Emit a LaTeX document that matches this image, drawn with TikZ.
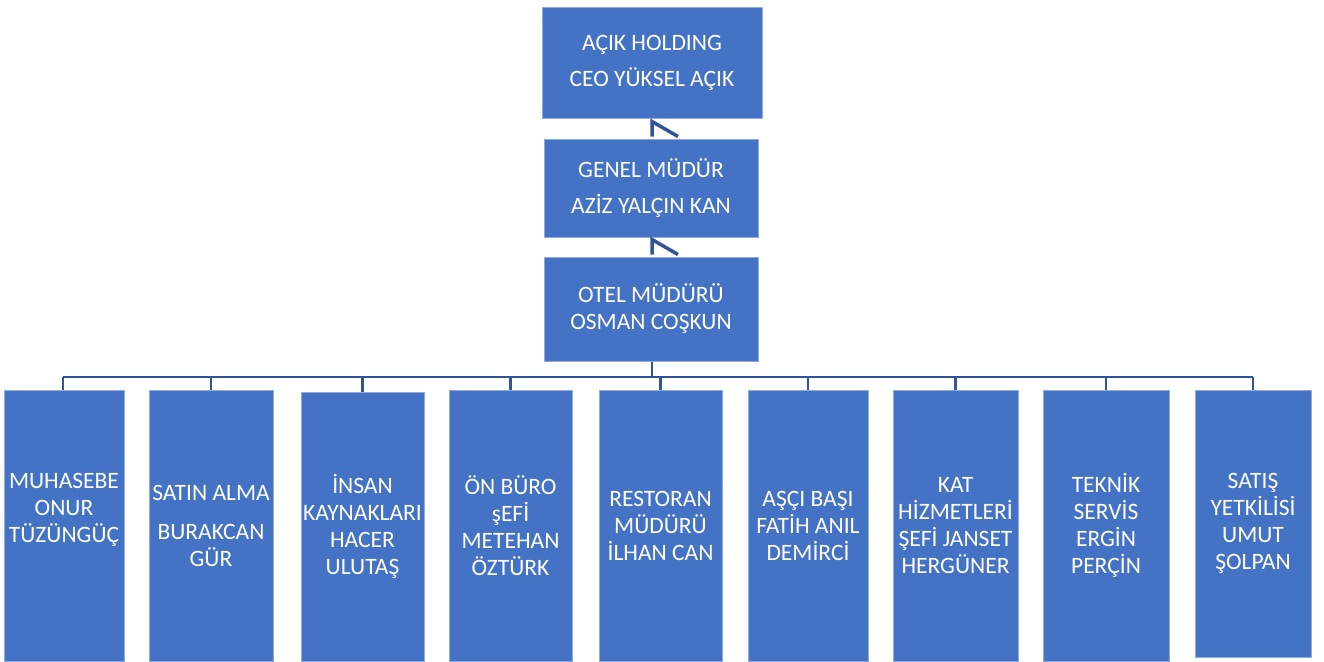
\documentclass[tikz,border=0pt]{standalone}
\usepackage{fontspec}
\setmainfont{Carlito}
\definecolor{boxblue}{HTML}{4472C4}
\definecolor{boxedge}{HTML}{8FAADC}
\definecolor{connblue}{HTML}{2F5597}
\begin{document}
\begin{tikzpicture}[x=1pt,y=-1pt,
  box/.style={rectangle, fill=boxblue, draw=boxedge, line width=1pt, text=white,
    align=center, inner sep=0pt, font=\fontsize{23.5}{27}\selectfont},
  conn/.style={draw=connblue, line width=2.5pt},
  stubline/.style={draw=connblue, line width=3.5pt}]
\useasboundingbox (0,0) rectangle (1324,661);
% top chain
\node[box, minimum width=220, minimum height=110] (t1) at (652,63) {AÇIK HOLDING\\[9pt]CEO YÜKSEL AÇIK};
\node[box, minimum width=214, minimum height=98] (t2) at (651,188) {GENEL MÜDÜR\\[9pt]AZİZ YALÇIN KAN};
\node[box, minimum width=214, minimum height=104] (t3) at (651,309) {OTEL MÜDÜRÜ\\OSMAN COŞKUN};
% bottom row
\node[box, minimum width=120, minimum height=271] (b1) at (64,525.5) {MUHASEBE\\ONUR\\TÜZÜNGÜÇ\\[8pt]~};
\node[box, minimum width=124, minimum height=271] (b2) at (211,525.5) {SATIN ALMA\\[12pt]BURAKCAN\\GÜR};
\node[box, minimum width=123, minimum height=269] (b3) at (362.5,526.5) {İNSAN\\KAYNAKLARI\\HACER\\ULUTAŞ};
\node[box, minimum width=123, minimum height=271] (b4) at (510.5,525.5) {ÖN BÜRO\\şEFİ\\METEHAN\\ÖZTÜRK};
\node[box, minimum width=123, minimum height=271] (b5) at (660.5,525.5) {RESTORAN\\MÜDÜRÜ\\İLHAN CAN};
\node[box, minimum width=120, minimum height=271] (b6) at (808,525.5) {AŞÇI BAŞI\\FATİH ANIL\\DEMİRCİ};
\node[box, minimum width=125, minimum height=271] (b7) at (955.5,525.5) {KAT\\HİZMETLERİ\\ŞEFİ JANSET\\HERGÜNER};
\node[box, minimum width=126, minimum height=271] (b8) at (1106,525.5) {TEKNİK\\SERVİS\\ERGİN\\PERÇİN};
\node[box, minimum width=116, minimum height=267] (b9) at (1253,523.5) {SATIŞ\\YETKİLİSİ\\UMUT\\ŞOLPAN};
% partial connectors between top boxes
\draw[stubline] ([xshift=1pt,yshift=2pt]t2.north) -- ([xshift=1pt,yshift=17pt]t2.north) -- ([xshift=27pt,yshift=2pt]t2.north);
\draw[stubline] ([xshift=1pt,yshift=2pt]t3.north) -- ([xshift=1pt,yshift=17pt]t3.north) -- ([xshift=27pt,yshift=2pt]t3.north);
% bus
\coordinate (bus) at (652,377);
\draw[conn] ([xshift=1pt]t3.south) -- ([xshift=1pt]t3.south |- bus);
\draw[conn] ([xshift=-1pt]b1.north |- bus) -- (b9.north |- bus);
\foreach \b/\dx in {b1/-1,b2/0,b3/0,b4/0,b5/0,b6/0,b7/0,b8/0,b9/0}{
  \draw[conn] ([xshift=\dx pt]\b.north) -- ([xshift=\dx pt]\b.north |- bus);
}
\end{tikzpicture}
\end{document}
